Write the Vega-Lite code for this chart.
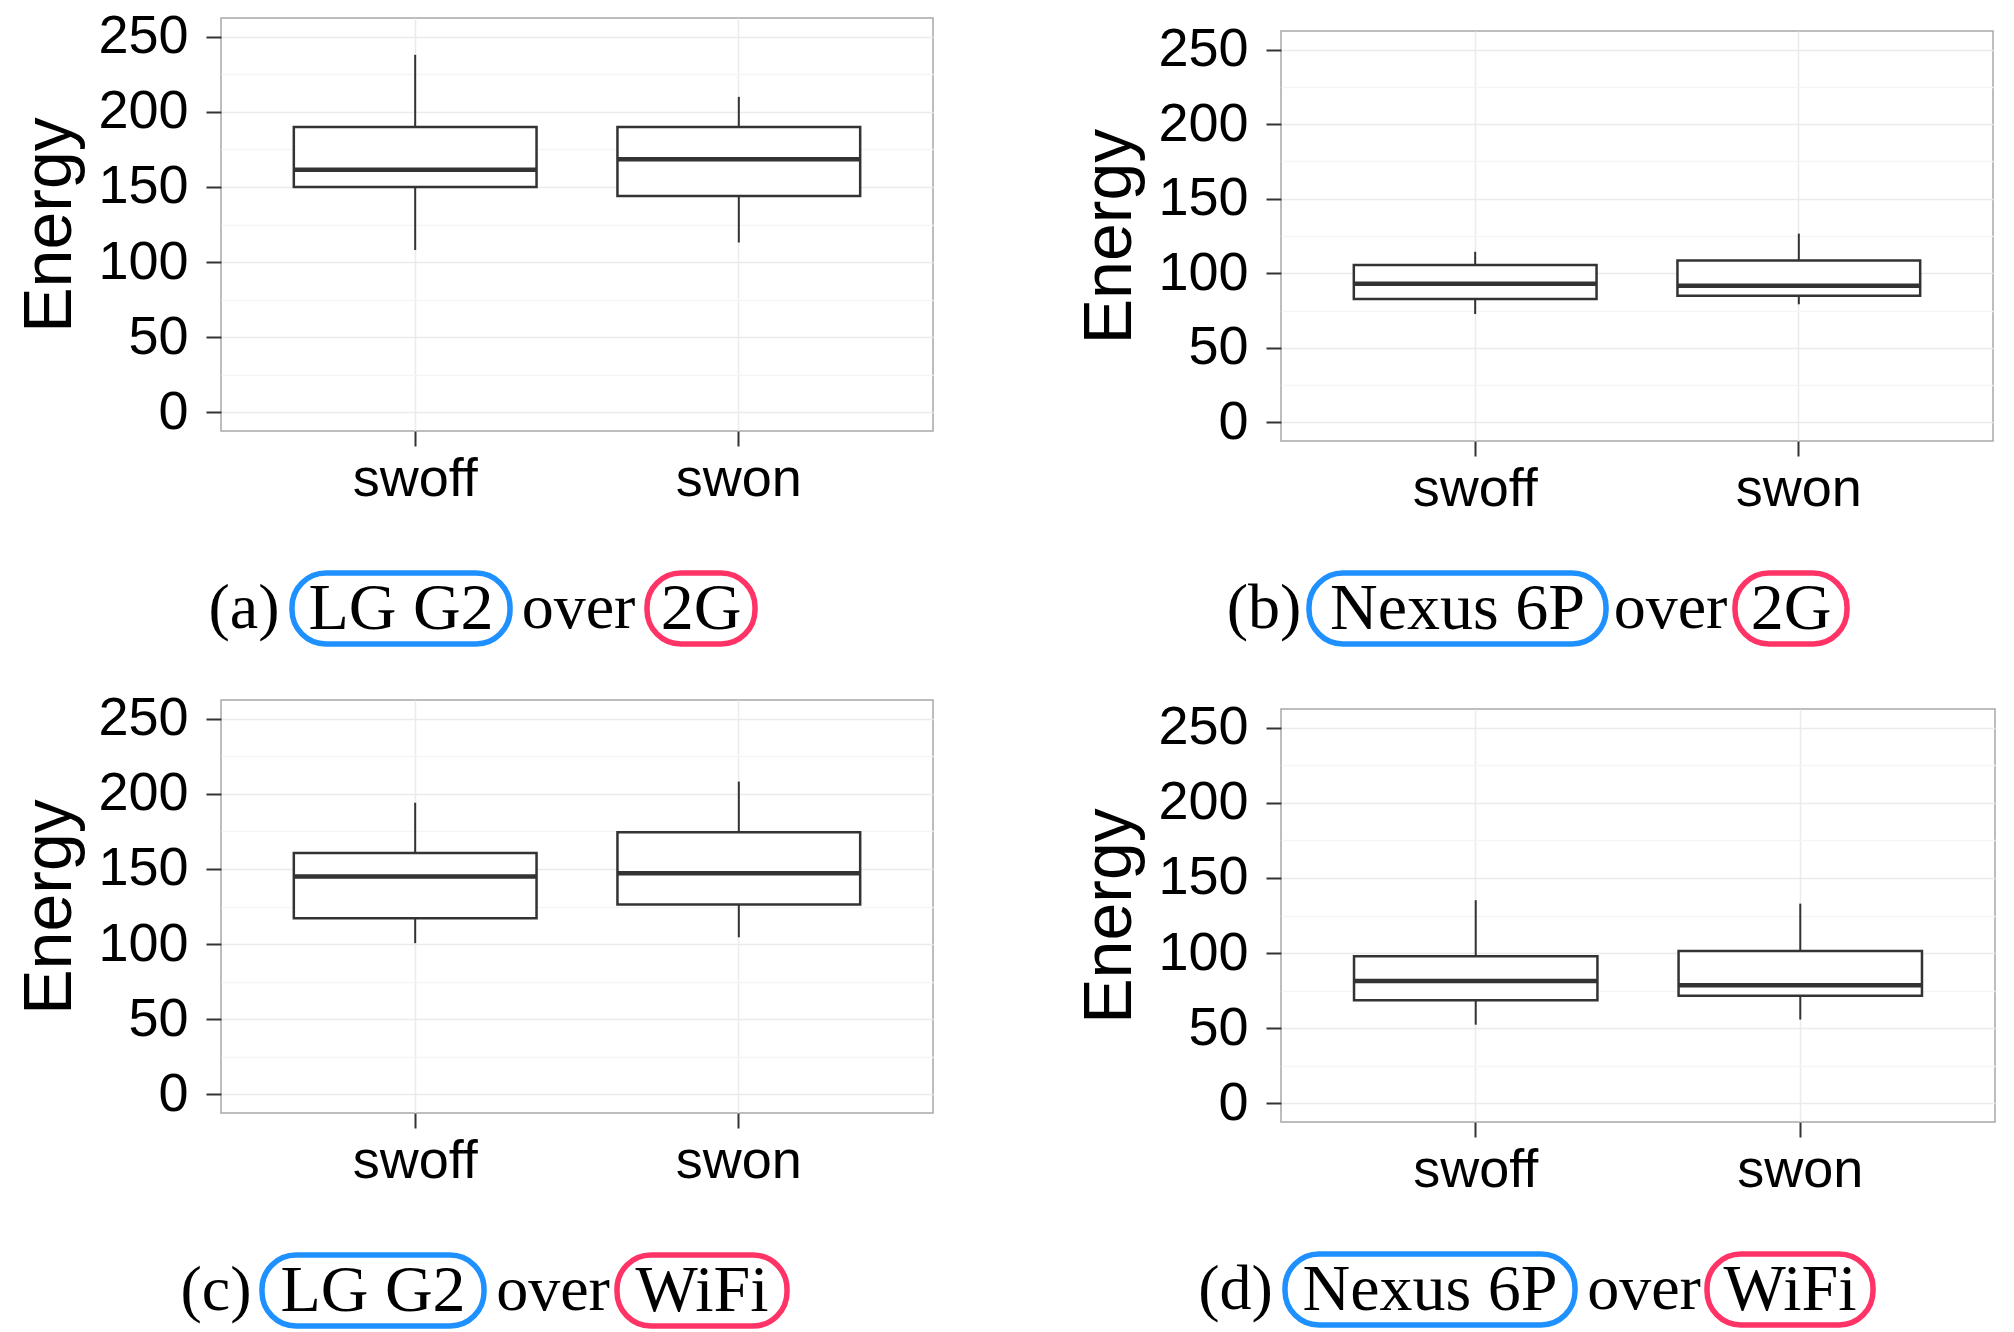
{
  "$schema": "https://vega.github.io/schema/vega-lite/v6.json",
  "background": "white",
  "padding": {"left": 16, "top": 9, "right": 0, "bottom": 0},
  "datasets": {
    "boxes": [
      {"panel": "a", "condition": "swoff", "lower": 108, "q1": 150, "median": 161.5, "q3": 190, "upper": 238},
      {"panel": "a", "condition": "swon", "lower": 113, "q1": 144, "median": 168.5, "q3": 190, "upper": 210},
      {"panel": "b", "condition": "swoff", "lower": 72.7, "q1": 82.7, "median": 93, "q3": 105.5, "upper": 114.4},
      {"panel": "b", "condition": "swon", "lower": 79.2, "q1": 84.9, "median": 91.6, "q3": 108.6, "upper": 126.6},
      {"panel": "c", "condition": "swoff", "lower": 100.6, "q1": 117.2, "median": 145, "q3": 160.6, "upper": 194.1},
      {"panel": "c", "condition": "swon", "lower": 104.5, "q1": 126.4, "median": 147.2, "q3": 174.4, "upper": 208.2},
      {"panel": "d", "condition": "swoff", "lower": 52.3, "q1": 68.5, "median": 81.4, "q3": 97.8, "upper": 135.2},
      {"panel": "d", "condition": "swon", "lower": 55.7, "q1": 71.6, "median": 78.5, "q3": 101.4, "upper": 132.9}
    ],
    "captions": [
      {"panel": "a", "part": "(a)", "kind": "plain"},
      {"panel": "a", "part": "LG G2", "kind": "device"},
      {"panel": "a", "part": "over", "kind": "plain"},
      {"panel": "a", "part": "2G", "kind": "network"},
      {"panel": "b", "part": "(b)", "kind": "plain"},
      {"panel": "b", "part": "Nexus 6P", "kind": "device"},
      {"panel": "b", "part": "over", "kind": "plain"},
      {"panel": "b", "part": "2G", "kind": "network"},
      {"panel": "c", "part": "(c)", "kind": "plain"},
      {"panel": "c", "part": "LG G2", "kind": "device"},
      {"panel": "c", "part": "over", "kind": "plain"},
      {"panel": "c", "part": "WiFi", "kind": "network"},
      {"panel": "d", "part": "(d)", "kind": "plain"},
      {"panel": "d", "part": "Nexus 6P", "kind": "device"},
      {"panel": "d", "part": "over", "kind": "plain"},
      {"panel": "d", "part": "WiFi", "kind": "network"}
    ]
  },
  "config": {
    "view": {"stroke": "#A8A8A8", "strokeWidth": 1.5},
    "font": "Liberation Sans",
    "axis": {
      "labelFont": "Liberation Sans", "titleFont": "Liberation Sans",
      "labelColor": "#000000", "titleColor": "#000000",
      "labelFontSize": 54, "titleFontSize": 68, "titleFontWeight": "normal",
      "tickColor": "#333333", "tickWidth": 2, "tickSize": 15,
      "domain": false, "gridColor": "#EBEBEB", "gridWidth": 1.5
    }
  },
  "spacing": 142,
  "hconcat": [
    {
      "spacing": 44,
      "vconcat": [
        {
          "spacing": 63,
          "vconcat": [
            {
              "width": 712, "height": 413,
              "data": {"name": "boxes"},
              "transform": [{"filter": "datum.panel === 'a'"}],
              "encoding": {"x": {"field": "condition", "type": "nominal", "scale": {"domain": ["swoff", "swon"], "paddingInner": 0.25, "paddingOuter": 0.225}, "axis": {"title": null, "grid": true, "labelAngle": 0, "labelPadding": 6, "bandPosition": 0.5}}},
              "layer": [
                {"mark": {"type": "rule", "color": "#333333", "strokeWidth": 2},
                 "encoding": {"y": {"field": "lower", "type": "quantitative", "title": "Energy", "scale": {"domain": [-12.5, 262.5], "nice": false, "zero": false},
                   "axis": {"values": [0, 25, 50, 75, 100, 125, 150, 175, 200, 225, 250], "labelExpr": "datum.value % 50 === 0 ? datum.label : ''", "labelOverlap": false, "labelPadding": 18, "titlePadding": 13,
                     "tickOpacity": {"condition": {"test": "datum.value % 50 === 0", "value": 1}, "value": 0},
                     "gridColor": {"condition": {"test": "datum.value % 50 === 0", "value": "#EBEBEB"}, "value": "#F5F5F5"}}},
                   "y2": {"field": "upper"}}},
                {"mark": {"type": "bar", "fill": "white", "stroke": "#333333", "strokeWidth": 2.5},
                 "encoding": {"y": {"field": "q1", "type": "quantitative", "title": "Energy", "scale": {"domain": [-12.5, 262.5], "nice": false, "zero": false}}, "y2": {"field": "q3"}}},
                {"mark": {"type": "bar", "fill": "white", "stroke": "#333333", "strokeWidth": 4.5},
                 "encoding": {"y": {"field": "median", "type": "quantitative", "title": "Energy", "scale": {"domain": [-12.5, 262.5], "nice": false, "zero": false}}, "y2": {"field": "median"}}}
              ]
            },
            {
              "spacing": 4,
              "hconcat": [
                {"width": 64, "height": 71, "view": {"stroke": null}, "data": {"name": "captions"}, "transform": [{"filter": "datum.panel === 'a' && datum.part === '(a)'"}],
                 "mark": {"type": "text", "font": "Liberation Serif", "fontSize": 64, "color": "#000000", "dx": -9}, "encoding": {"text": {"field": "part"}}},
                {"width": 218, "height": 71, "view": {"stroke": null}, "data": {"name": "captions"}, "transform": [{"filter": "datum.panel === 'a' && datum.part === 'LG G2'"}],
                 "layer": [
                   {"mark": {"type": "rect", "fill": "white", "fillOpacity": 0, "strokeWidth": 5.5, "cornerRadius": 34}, "encoding": {"stroke": {"field": "kind", "type": "nominal", "scale": {"domain": ["device", "network"], "range": ["#1E90FF", "#FF3366"]}, "legend": null}}},
                   {"mark": {"type": "text", "font": "Liberation Serif", "fontSize": 66, "color": "#000000"}, "encoding": {"text": {"field": "part"}}}
                 ]},
                {"width": 123, "height": 71, "view": {"stroke": null}, "data": {"name": "captions"}, "transform": [{"filter": "datum.panel === 'a' && datum.part === 'over'"}],
                 "mark": {"type": "text", "font": "Liberation Serif", "fontSize": 64, "color": "#000000"}, "encoding": {"text": {"field": "part"}}},
                {"width": 108, "height": 71, "view": {"stroke": null}, "data": {"name": "captions"}, "transform": [{"filter": "datum.panel === 'a' && datum.part === '2G'"}],
                 "layer": [
                   {"mark": {"type": "rect", "fill": "white", "fillOpacity": 0, "strokeWidth": 5.5, "cornerRadius": 34}, "encoding": {"stroke": {"field": "kind", "type": "nominal", "scale": {"domain": ["device", "network"], "range": ["#1E90FF", "#FF3366"]}, "legend": null}}},
                   {"mark": {"type": "text", "font": "Liberation Serif", "fontSize": 66, "color": "#000000"}, "encoding": {"text": {"field": "part"}}}
                 ]}
              ]
            }
          ]
        },
        {
          "spacing": 63,
          "vconcat": [
            {
              "width": 712, "height": 413,
              "data": {"name": "boxes"},
              "transform": [{"filter": "datum.panel === 'c'"}],
              "encoding": {"x": {"field": "condition", "type": "nominal", "scale": {"domain": ["swoff", "swon"], "paddingInner": 0.25, "paddingOuter": 0.225}, "axis": {"title": null, "grid": true, "labelAngle": 0, "labelPadding": 6, "bandPosition": 0.5}}},
              "layer": [
                {"mark": {"type": "rule", "color": "#333333", "strokeWidth": 2},
                 "encoding": {"y": {"field": "lower", "type": "quantitative", "title": "Energy", "scale": {"domain": [-12.5, 262.5], "nice": false, "zero": false},
                   "axis": {"values": [0, 25, 50, 75, 100, 125, 150, 175, 200, 225, 250], "labelExpr": "datum.value % 50 === 0 ? datum.label : ''", "labelOverlap": false, "labelPadding": 18, "titlePadding": 13,
                     "tickOpacity": {"condition": {"test": "datum.value % 50 === 0", "value": 1}, "value": 0},
                     "gridColor": {"condition": {"test": "datum.value % 50 === 0", "value": "#EBEBEB"}, "value": "#F5F5F5"}}},
                   "y2": {"field": "upper"}}},
                {"mark": {"type": "bar", "fill": "white", "stroke": "#333333", "strokeWidth": 2.5},
                 "encoding": {"y": {"field": "q1", "type": "quantitative", "title": "Energy", "scale": {"domain": [-12.5, 262.5], "nice": false, "zero": false}}, "y2": {"field": "q3"}}},
                {"mark": {"type": "bar", "fill": "white", "stroke": "#333333", "strokeWidth": 4.5},
                 "encoding": {"y": {"field": "median", "type": "quantitative", "title": "Energy", "scale": {"domain": [-12.5, 262.5], "nice": false, "zero": false}}, "y2": {"field": "median"}}}
              ]
            },
            {
              "spacing": 4,
              "hconcat": [
                {"width": 34, "height": 71, "view": {"stroke": null}, "data": {"name": "captions"}, "transform": [{"filter": "datum.panel === 'c' && datum.part === '(c)'"}],
                 "mark": {"type": "text", "font": "Liberation Serif", "fontSize": 64, "color": "#000000", "dx": -22}, "encoding": {"text": {"field": "part"}}},
                {"width": 222, "height": 71, "view": {"stroke": null}, "data": {"name": "captions"}, "transform": [{"filter": "datum.panel === 'c' && datum.part === 'LG G2'"}],
                 "layer": [
                   {"mark": {"type": "rect", "fill": "white", "fillOpacity": 0, "strokeWidth": 5.5, "cornerRadius": 34}, "encoding": {"stroke": {"field": "kind", "type": "nominal", "scale": {"domain": ["device", "network"], "range": ["#1E90FF", "#FF3366"]}, "legend": null}}},
                   {"mark": {"type": "text", "font": "Liberation Serif", "fontSize": 66, "color": "#000000"}, "encoding": {"text": {"field": "part"}}}
                 ]},
                {"width": 116, "height": 71, "view": {"stroke": null}, "data": {"name": "captions"}, "transform": [{"filter": "datum.panel === 'c' && datum.part === 'over'"}],
                 "mark": {"type": "text", "font": "Liberation Serif", "fontSize": 64, "color": "#000000", "dx": 4}, "encoding": {"text": {"field": "part"}}},
                {"width": 170, "height": 71, "view": {"stroke": null}, "data": {"name": "captions"}, "transform": [{"filter": "datum.panel === 'c' && datum.part === 'WiFi'"}],
                 "layer": [
                   {"mark": {"type": "rect", "fill": "white", "fillOpacity": 0, "strokeWidth": 5.5, "cornerRadius": 34}, "encoding": {"stroke": {"field": "kind", "type": "nominal", "scale": {"domain": ["device", "network"], "range": ["#1E90FF", "#FF3366"]}, "legend": null}}},
                   {"mark": {"type": "text", "font": "Liberation Serif", "fontSize": 66, "color": "#000000"}, "encoding": {"text": {"field": "part"}}}
                 ]}
              ]
            }
          ]
        }
      ]
    },
    {
      "spacing": 0,
      "vconcat": [
        {"width": 1, "height": 3, "view": {"stroke": null}, "data": {"name": "captions"}, "transform": [{"filter": "false"}], "mark": {"type": "rect", "opacity": 0}},
        {
          "spacing": 53,
          "vconcat": [
            {
              "spacing": 53,
              "vconcat": [
                {
                  "width": 712, "height": 410,
                  "data": {"name": "boxes"},
                  "transform": [{"filter": "datum.panel === 'b'"}],
                  "encoding": {"x": {"field": "condition", "type": "nominal", "scale": {"domain": ["swoff", "swon"], "paddingInner": 0.25, "paddingOuter": 0.225}, "axis": {"title": null, "grid": true, "labelAngle": 0, "labelPadding": 6, "bandPosition": 0.5}}},
                  "layer": [
                    {"mark": {"type": "rule", "color": "#333333", "strokeWidth": 2},
                     "encoding": {"y": {"field": "lower", "type": "quantitative", "title": "Energy", "scale": {"domain": [-12.5, 262.5], "nice": false, "zero": false},
                       "axis": {"values": [0, 25, 50, 75, 100, 125, 150, 175, 200, 225, 250], "labelExpr": "datum.value % 50 === 0 ? datum.label : ''", "labelOverlap": false, "labelPadding": 18, "titlePadding": 13,
                         "tickOpacity": {"condition": {"test": "datum.value % 50 === 0", "value": 1}, "value": 0},
                         "gridColor": {"condition": {"test": "datum.value % 50 === 0", "value": "#EBEBEB"}, "value": "#F5F5F5"}}},
                       "y2": {"field": "upper"}}},
                    {"mark": {"type": "bar", "fill": "white", "stroke": "#333333", "strokeWidth": 2.5},
                     "encoding": {"y": {"field": "q1", "type": "quantitative", "title": "Energy", "scale": {"domain": [-12.5, 262.5], "nice": false, "zero": false}}, "y2": {"field": "q3"}}},
                    {"mark": {"type": "bar", "fill": "white", "stroke": "#333333", "strokeWidth": 4.5},
                     "encoding": {"y": {"field": "median", "type": "quantitative", "title": "Energy", "scale": {"domain": [-12.5, 262.5], "nice": false, "zero": false}}, "y2": {"field": "median"}}}
                  ]
                },
                {
                  "spacing": 4,
                  "hconcat": [
                    {"width": 20, "height": 71, "view": {"stroke": null}, "data": {"name": "captions"}, "transform": [{"filter": "datum.panel === 'b' && datum.part === '(b)'"}],
                     "mark": {"type": "text", "font": "Liberation Serif", "fontSize": 64, "color": "#000000", "dx": -27}, "encoding": {"text": {"field": "part"}}},
                    {"width": 297, "height": 71, "view": {"stroke": null}, "data": {"name": "captions"}, "transform": [{"filter": "datum.panel === 'b' && datum.part === 'Nexus 6P'"}],
                     "layer": [
                       {"mark": {"type": "rect", "fill": "white", "fillOpacity": 0, "strokeWidth": 5.5, "cornerRadius": 34}, "encoding": {"stroke": {"field": "kind", "type": "nominal", "scale": {"domain": ["device", "network"], "range": ["#1E90FF", "#FF3366"]}, "legend": null}}},
                       {"mark": {"type": "text", "font": "Liberation Serif", "fontSize": 66, "color": "#000000"}, "encoding": {"text": {"field": "part"}}}
                     ]},
                    {"width": 115, "height": 71, "view": {"stroke": null}, "data": {"name": "captions"}, "transform": [{"filter": "datum.panel === 'b' && datum.part === 'over'"}],
                     "mark": {"type": "text", "font": "Liberation Serif", "fontSize": 64, "color": "#000000"}, "encoding": {"text": {"field": "part"}}},
                    {"width": 112, "height": 71, "view": {"stroke": null}, "data": {"name": "captions"}, "transform": [{"filter": "datum.panel === 'b' && datum.part === '2G'"}],
                     "layer": [
                       {"mark": {"type": "rect", "fill": "white", "fillOpacity": 0, "strokeWidth": 5.5, "cornerRadius": 34}, "encoding": {"stroke": {"field": "kind", "type": "nominal", "scale": {"domain": ["device", "network"], "range": ["#1E90FF", "#FF3366"]}, "legend": null}}},
                       {"mark": {"type": "text", "font": "Liberation Serif", "fontSize": 66, "color": "#000000"}, "encoding": {"text": {"field": "part"}}}
                     ]}
                  ]
                }
              ]
            },
            {
              "spacing": 53,
              "vconcat": [
                {
                  "width": 714, "height": 413,
                  "data": {"name": "boxes"},
                  "transform": [{"filter": "datum.panel === 'd'"}],
                  "encoding": {"x": {"field": "condition", "type": "nominal", "scale": {"domain": ["swoff", "swon"], "paddingInner": 0.25, "paddingOuter": 0.225}, "axis": {"title": null, "grid": true, "labelAngle": 0, "labelPadding": 6, "bandPosition": 0.5}}},
                  "layer": [
                    {"mark": {"type": "rule", "color": "#333333", "strokeWidth": 2},
                     "encoding": {"y": {"field": "lower", "type": "quantitative", "title": "Energy", "scale": {"domain": [-12.5, 262.5], "nice": false, "zero": false},
                       "axis": {"values": [0, 25, 50, 75, 100, 125, 150, 175, 200, 225, 250], "labelExpr": "datum.value % 50 === 0 ? datum.label : ''", "labelOverlap": false, "labelPadding": 18, "titlePadding": 13,
                         "tickOpacity": {"condition": {"test": "datum.value % 50 === 0", "value": 1}, "value": 0},
                         "gridColor": {"condition": {"test": "datum.value % 50 === 0", "value": "#EBEBEB"}, "value": "#F5F5F5"}}},
                       "y2": {"field": "upper"}}},
                    {"mark": {"type": "bar", "fill": "white", "stroke": "#333333", "strokeWidth": 2.5},
                     "encoding": {"y": {"field": "q1", "type": "quantitative", "title": "Energy", "scale": {"domain": [-12.5, 262.5], "nice": false, "zero": false}}, "y2": {"field": "q3"}}},
                    {"mark": {"type": "bar", "fill": "white", "stroke": "#333333", "strokeWidth": 4.5},
                     "encoding": {"y": {"field": "median", "type": "quantitative", "title": "Energy", "scale": {"domain": [-12.5, 262.5], "nice": false, "zero": false}}, "y2": {"field": "median"}}}
                  ]
                },
                {
                  "spacing": 0,
                  "hconcat": [
                    {"width": 1, "height": 71, "view": {"stroke": null}, "data": {"name": "captions"}, "transform": [{"filter": "datum.panel === 'd' && datum.part === '(d)'"}],
                     "mark": {"type": "text", "font": "Liberation Serif", "fontSize": 64, "color": "#000000", "dx": -46}, "encoding": {"text": {"field": "part"}}},
                    {"width": 290, "height": 71, "view": {"stroke": null}, "data": {"name": "captions"}, "transform": [{"filter": "datum.panel === 'd' && datum.part === 'Nexus 6P'"}],
                     "layer": [
                       {"mark": {"type": "rect", "fill": "white", "fillOpacity": 0, "strokeWidth": 5.5, "cornerRadius": 34}, "encoding": {"stroke": {"field": "kind", "type": "nominal", "scale": {"domain": ["device", "network"], "range": ["#1E90FF", "#FF3366"]}, "legend": null}}},
                       {"mark": {"type": "text", "font": "Liberation Serif", "fontSize": 66, "color": "#000000"}, "encoding": {"text": {"field": "part"}}}
                     ]},
                    {"width": 126, "height": 71, "view": {"stroke": null}, "data": {"name": "captions"}, "transform": [{"filter": "datum.panel === 'd' && datum.part === 'over'"}],
                     "mark": {"type": "text", "font": "Liberation Serif", "fontSize": 64, "color": "#000000", "dx": 3}, "encoding": {"text": {"field": "part"}}},
                    {"width": 166, "height": 71, "view": {"stroke": null}, "data": {"name": "captions"}, "transform": [{"filter": "datum.panel === 'd' && datum.part === 'WiFi'"}],
                     "layer": [
                       {"mark": {"type": "rect", "fill": "white", "fillOpacity": 0, "strokeWidth": 5.5, "cornerRadius": 34}, "encoding": {"stroke": {"field": "kind", "type": "nominal", "scale": {"domain": ["device", "network"], "range": ["#1E90FF", "#FF3366"]}, "legend": null}}},
                       {"mark": {"type": "text", "font": "Liberation Serif", "fontSize": 66, "color": "#000000"}, "encoding": {"text": {"field": "part"}}}
                     ]}
                  ]
                }
              ]
            }
          ]
        }
      ]
    }
  ]
}
